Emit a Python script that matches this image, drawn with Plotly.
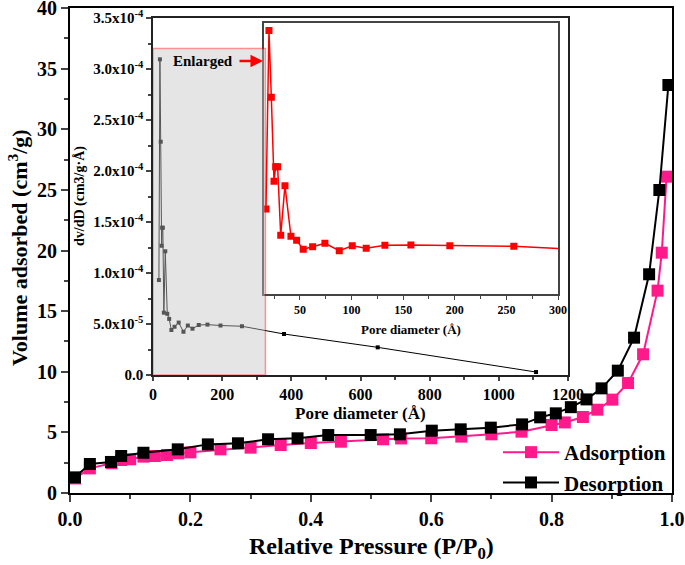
import plotly.graph_objects as go

# Nitrogen isotherm (main plot)
p_ads = [0.0083, 0.033, 0.069, 0.085, 0.10, 0.122, 0.141, 0.161, 0.18, 0.20, 0.25, 0.30,
         0.35, 0.40, 0.45, 0.52, 0.55, 0.60, 0.65, 0.70, 0.75, 0.80, 0.822, 0.852, 0.876,
         0.901, 0.927, 0.952, 0.976, 0.983, 0.991]
v_ads = [1.2, 2.03, 2.45, 2.72, 2.78, 3.0, 3.05, 3.13, 3.27, 3.35, 3.60, 3.74,
         3.96, 4.12, 4.23, 4.43, 4.50, 4.51, 4.65, 4.84, 5.06, 5.61, 5.82, 6.27, 6.87,
         7.70, 9.07, 11.44, 16.69, 19.82, 26.09]
p_des = [0.994, 0.979, 0.962, 0.937, 0.910, 0.883, 0.858, 0.832, 0.807, 0.781, 0.751,
         0.699, 0.649, 0.601, 0.548, 0.4995, 0.429, 0.378, 0.329, 0.279, 0.229, 0.179,
         0.122, 0.085, 0.068, 0.033, 0.0083]
v_des = [33.65, 24.99, 18.04, 12.81, 10.09, 8.63, 7.72, 7.08, 6.57, 6.24, 5.66,
         5.39, 5.25, 5.14, 4.84, 4.78, 4.78, 4.51, 4.43, 4.10, 4.01, 3.60,
         3.32, 3.05, 2.56, 2.39, 1.29]

# Pore size distribution (inset + enlarged inset)
pore_d = [17.1, 20.0, 22.3, 24.9, 26.5, 28.4, 31.4, 35.5, 41.3, 46.8, 53.2, 62.3, 74.2,
          88.1, 100.7, 114.2, 132.3, 157.5, 195.2, 257.2, 378.8, 649.8, 1107.6]
dvdd = [9.31e-5, 3.095e-4, 2.287e-4, 1.267e-4, 1.444e-4, 1.444e-4, 6.11e-5, 1.213e-4,
        6.0e-5, 5.5e-5, 4.41e-5, 4.73e-5, 5.14e-5, 4.24e-5, 4.85e-5, 4.54e-5, 4.9e-5,
        4.94e-5, 4.85e-5, 4.78e-5, 4.02e-5, 2.71e-5, 2.9e-6]

inset_ytickvals = [0, 5e-5, 1e-4, 1.5e-4, 2e-4, 2.5e-4, 3e-4, 3.5e-4]
inset_yticktext = ["0.0", "5.0x10<sup>-5</sup>", "1.0x10<sup>-4</sup>", "1.5x10<sup>-4</sup>",
                   "2.0x10<sup>-4</sup>", "2.5x10<sup>-4</sup>", "3.0x10<sup>-4</sup>",
                   "3.5x10<sup>-4</sup>"]
zoom_xtickvals = [50, 100, 150, 200, 250, 300]

PINK = "#ff1a8c"
FONT = "Liberation Serif"
W, H = 685, 565


def px(x):
    return x / W


def py(y):
    return 1 - y / H


fig = go.Figure()
fig.add_trace(go.Scatter(x=p_ads, y=v_ads, mode="lines+markers", name="Adsorption",
                         line=dict(color=PINK, width=2),
                         marker=dict(symbol="square", size=12, color=PINK)))
fig.add_trace(go.Scatter(x=p_des, y=v_des, mode="lines+markers", name="Desorption",
                         line=dict(color="black", width=2),
                         marker=dict(symbol="square", size=12, color="black")))
fig.add_trace(go.Scatter(x=pore_d, y=dvdd, mode="lines+markers", xaxis="x2", yaxis="y2",
                         showlegend=False, line=dict(color="black", width=1),
                         marker=dict(symbol="square", size=4, color="black")))
fig.add_trace(go.Scatter(x=pore_d, y=dvdd, mode="lines+markers", xaxis="x3", yaxis="y3",
                         showlegend=False, line=dict(color="#ff0000", width=1.5),
                         marker=dict(symbol="square", size=7, color="#ff0000")))

bold = dict(family=FONT, color="black", weight="bold")

fig.update_layout(
    width=W, height=H,
    margin=dict(l=0, r=0, t=0, b=0),
    paper_bgcolor="white", plot_bgcolor="white",
    font=dict(family=FONT, color="black"),
    xaxis=dict(domain=[px(70), px(672)], range=[0, 1], anchor="y", dtick=0.2, tickformat=".1f",
               ticks="outside", ticklen=7, tickwidth=2, showline=True, linewidth=2,
               linecolor="black", mirror=True, showgrid=False, zeroline=False,
               automargin=False, ticklabeloverflow="allow", tickfont=dict(size=20, **bold),
               minor=dict(ticks="outside", ticklen=4, tickwidth=2, dtick=0.1)),
    yaxis=dict(domain=[py(493), py(8)], range=[0, 40], anchor="x", dtick=5,
               ticks="outside", ticklen=7, tickwidth=2, showline=True, linewidth=2,
               linecolor="black", mirror=True, showgrid=False, zeroline=False,
               automargin=False, ticklabeloverflow="allow", tickfont=dict(size=20, **bold),
               minor=dict(ticks="outside", ticklen=4, tickwidth=2, dtick=2.5)),
    xaxis2=dict(domain=[px(153), px(568)], range=[0, 1200], anchor="y2", dtick=200,
                ticks="outside", ticklen=4, tickwidth=1.5, showline=True, linewidth=1.5,
                linecolor="#222", mirror=True, showgrid=False, zeroline=False,
                automargin=False, tickfont=dict(size=16, **bold),
                minor=dict(ticks="outside", ticklen=3, tickwidth=1.5, dtick=100)),
    yaxis2=dict(domain=[py(375), py(18)], range=[0, 3.5e-4], anchor="x2",
                tickvals=inset_ytickvals, ticktext=inset_yticktext,
                ticks="outside", ticklen=5, tickwidth=1.5, showline=True, linewidth=1.5,
                linecolor="#222", mirror=True, showgrid=False, zeroline=False,
                automargin=False, tickfont=dict(size=15, **bold),
                minor=dict(ticks="outside", ticklen=3, tickwidth=1.5, dtick=2.5e-5, tick0=0)),
    xaxis3=dict(domain=[px(264), px(558)], range=[15.2, 300], anchor="y3",
                tickvals=zoom_xtickvals, ticks="outside", ticklen=4, tickwidth=1,
                showline=True, linewidth=1.5, linecolor="#444", mirror=True,
                showgrid=False, zeroline=False, automargin=False,
                tickfont=dict(size=12, **bold),
                minor=dict(ticks="outside", ticklen=3, tickwidth=1, dtick=25, tick0=0)),
    yaxis3=dict(domain=[py(294), py(22.7)], range=[-1.01e-5, 3.19e-4], anchor="x3",
                showticklabels=False, ticks="", showline=True, linewidth=1.5,
                linecolor="#444", mirror=True, showgrid=False, zeroline=False,
                automargin=False),
    legend=dict(x=px(671), xanchor="right", y=py(432), yanchor="top",
                bgcolor="rgba(0,0,0,0)", font=dict(size=21, **bold),
                itemwidth=56, tracegroupgap=0),
)

# shaded region marking the enlarged part
fig.add_shape(type="rect", xref="x2", yref="y2", x0=0, x1=325, y0=0, y1=3.2e-4,
              fillcolor="#c5c5c5", opacity=0.43, line=dict(color="#ff0000", width=1.5),
              layer="above")

ann = [
    dict(text="Volume adsorbed (cm<sup>3</sup>/g)", x=px(18), y=py(248), textangle=-90,
         font=dict(size=22, **bold)),
    dict(text="Relative Pressure (P/P<sub>0</sub>)", x=px(371), y=py(548),
         font=dict(size=24, **bold)),
    dict(text="dv/dD (cm3/g·Å)", x=px(80), y=py(196), textangle=-90,
         font=dict(size=14, **bold)),
    dict(text="Pore diameter (Å)", x=px(360), y=py(413), font=dict(size=17, **bold)),
    dict(text="Pore diameter (Å)", x=px(411), y=py(329), font=dict(size=13, **bold)),
    dict(text="Enlarged", x=px(203), y=py(61), font=dict(size=15, **bold)),
]
for a in ann:
    fig.add_annotation(xref="paper", yref="paper", showarrow=False,
                       xanchor="center", yanchor="middle", **a)

# red arrow pointing to the enlarged inset
fig.add_annotation(xref="paper", yref="paper", x=px(263), y=py(61), ax=-25, ay=0,
                   axref="pixel", ayref="pixel", text="", showarrow=True,
                   arrowhead=2, arrowsize=1, arrowwidth=2.5, arrowcolor="#ff0000")

# the page has a default 8px body margin; drop it so the figure sits at the corner
fig.write_html("out.html", config={"displayModeBar": False},
               post_script="document.body.style.margin='0';")
